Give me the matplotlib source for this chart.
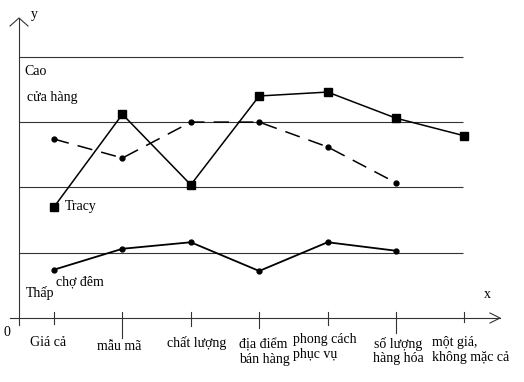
import numpy as np
import matplotlib
matplotlib.use("Agg")
import matplotlib.pyplot as plt

plt.rcParams['font.family'] = ['Liberation Serif', 'DejaVu Serif']

# tieu chi tren truc x
categories = ["Giá cả", "mẫu mã", "chất lượng", "địa điểm\nbán hàng",
              "phong cách\nphục vụ", "số lượng\nhàng hóa", "một giá,\nkhông mặc cả"]
# muc danh gia (0 = truc x, 1..4 = cac duong ngang)
tracy = [1.70, 3.12, 2.04, 3.40, 3.46, 3.06, 2.79]
dashed = [2.74, 2.45, 3.00, 3.00, 2.62, 2.07]
cho_dem = [0.74, 1.06, 1.16, 0.72, 1.16, 1.03]
levels = [1, 2, 3, 4]

# pixel -> data (chi dung cho bo cuc)
X0, DX = 54.0, 68.4
Y0, DY = 318.0, 65.3
def fx(p):
    return (p - X0) / DX
def fy(p):
    return (Y0 - p) / DY

fig = plt.figure(figsize=(5.24, 3.82), dpi=100)
ax = fig.add_axes([0, 0, 1, 1])
ax.set_xlim(fx(0), fx(524))
ax.set_ylim(fy(382), fy(0))
ax.axis("off")

# duong ngang
ax.hlines(levels, fx(19), fx(463), color="#333333", lw=0.8)

# truc
ax.plot([fx(10), fx(500)], [0, 0], color="#333333", lw=0.8)
ax.plot([fx(490), fx(500), fx(490)], [fy(313), 0, fy(323)], color="#333333", lw=0.8)
ax.plot([fx(19), fx(19)], [fy(325), fy(18)], color="#333333", lw=0.8)
ax.plot([fx(10), fx(19), fx(28)], [fy(26), fy(18), fy(26)], color="#333333", lw=0.8)

# vach chia
tick_bottom = [324, 338, 326, 328, 325, 333, 322]
for i in range(len(categories)):
    ax.plot([i, i], [fy(312), fy(tick_bottom[i])], color="#333333", lw=0.8)

x7 = np.arange(len(tracy))
x6 = np.arange(len(dashed))
ax.plot(x7, tracy, color="black", lw=1.1, marker="s", ms=5.5)
ax.plot(x6, dashed, color="black", lw=1.1, marker="o", ms=3.5, dashes=(10, 6))
ax.plot(x6, cho_dem, color="black", lw=1.3, marker="o", ms=3.5)

fs = 10
ax.text(fx(34), fy(15), "y", fontsize=fs, ha="center", va="center")
ax.text(fx(487), fy(294), "x", fontsize=fs, ha="center", va="center")
ax.text(fx(4), fy(333), "0", fontsize=fs, ha="left", va="center")
ax.text(fx(24), fy(72), "Cao", fontsize=fs, ha="left", va="center")
ax.text(fx(27), fy(98), "cửa hàng", fontsize=fs, ha="left", va="center")
ax.text(fx(65), fy(207), "Tracy", fontsize=fs, ha="left", va="center")
ax.text(fx(56), fy(282), "chợ đêm", fontsize=fs, ha="left", va="center")
ax.text(fx(26), fy(293), "Thấp", fontsize=fs, ha="left", va="center")

# nhan truc x
lab_pos = [(48, 342, "center"), (119, 347, "center"), (197, 343, "center"),
           (239, 352, "left"), (293, 347, "left"), (398, 351, "center"),
           (432, 350, "left")]
for lab, (lx, ly, ha) in zip(categories, lab_pos):
    ax.text(fx(lx), fy(ly), lab, fontsize=fs, ha=ha, va="center",
            linespacing=1.15, multialignment=ha)

plt.savefig("out.png", dpi=100)
plt.close()
